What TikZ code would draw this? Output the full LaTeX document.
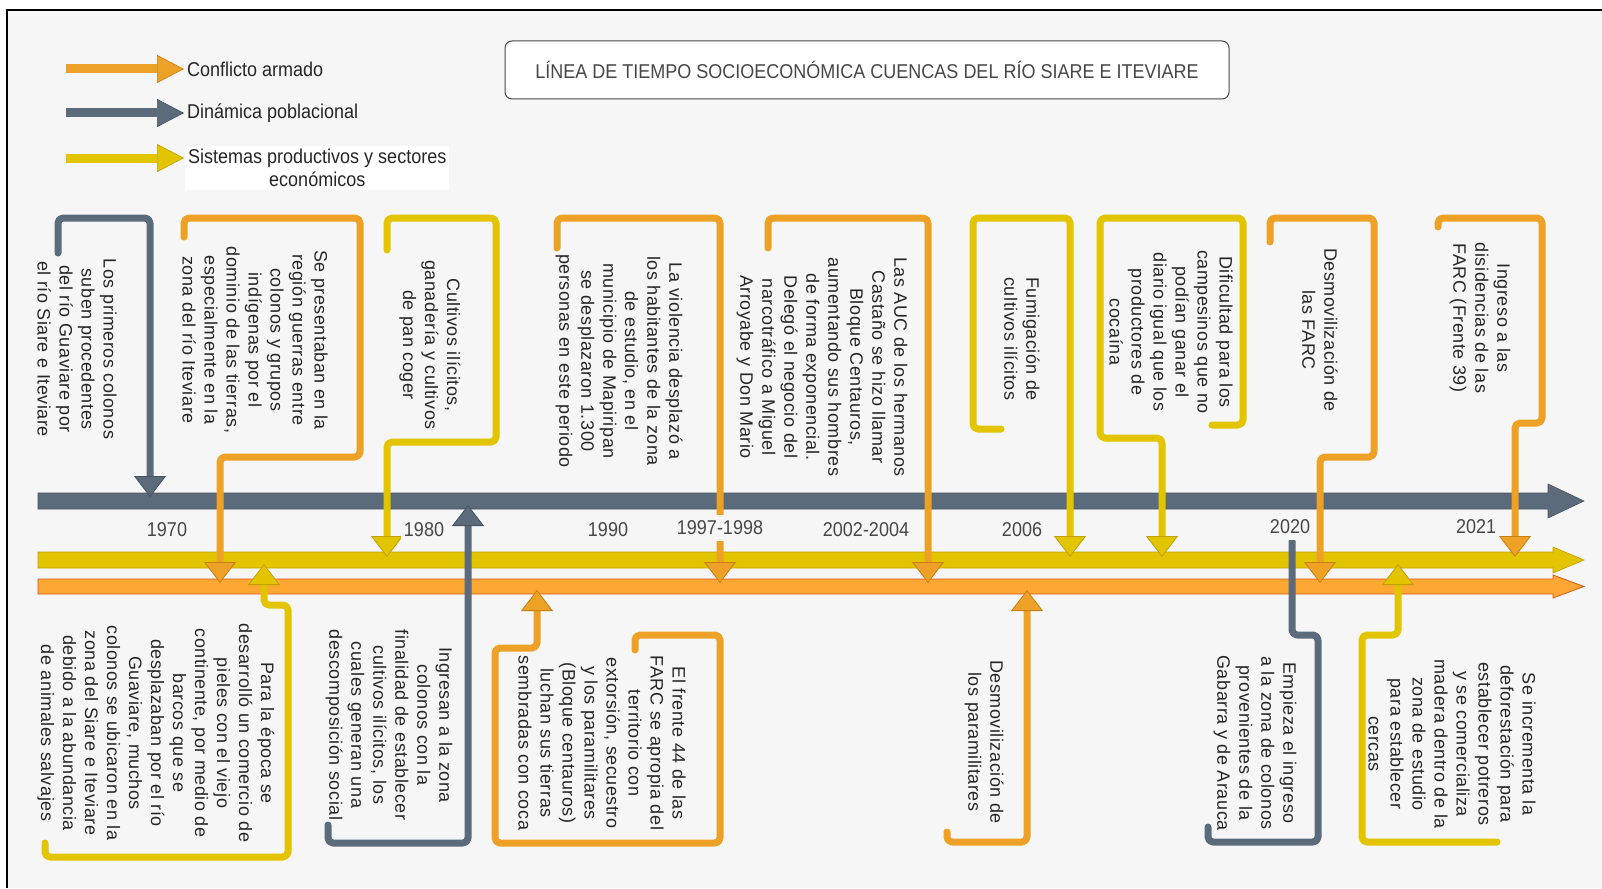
\documentclass[tikz,border=0pt]{standalone}
\usepackage{fontspec}
\setmainfont{Liberation Sans}
\newfontfamily\vfont[LetterSpace=3]{Liberation Sans}
\newfontfamily\nfont[FakeStretch=0.9]{Liberation Sans}
\usetikzlibrary{arrows.meta}
\definecolor{bg}{HTML}{F6F6F6}
\definecolor{greyc}{HTML}{5B6B7C}
\definecolor{greyd}{HTML}{46535F}
\definecolor{orc}{HTML}{EEA127}
\definecolor{ord}{HTML}{C97F12}
\definecolor{obar}{HTML}{FFA733}
\definecolor{obard}{HTML}{D45A1E}
\definecolor{yelc}{HTML}{E3C400}
\definecolor{yeld}{HTML}{BFA200}
\definecolor{txt}{HTML}{262626}
\tikzset{
  callout/.style={line width=7pt, rounded corners=5pt, line cap=round, line join=round},
  cgrey/.style={callout, draw=greyc, -{Triangle[width=32pt,length=21pt,line width=0.8pt,fill=greyc,color=greyd]}},
  corange/.style={callout, draw=orc, -{Triangle[width=32pt,length=21pt,line width=0.8pt,fill=orc,color=ord]}},
  cyellow/.style={callout, draw=yelc, -{Triangle[width=32pt,length=21pt,line width=0.8pt,fill=yelc,color=yeld]}},
  vtext/.style={rotate=-90, align=center, inner sep=0pt, text=txt, font=\vfont\fontsize{18}{22}\selectfont},
  year/.style={fill=bg, inner xsep=3pt, inner ysep=6pt, text=txt!85, font=\nfont\fontsize{20}{24}\selectfont},
  legtext/.style={anchor=west, inner sep=2pt, text=txt, font=\nfont\fontsize{20}{23}\selectfont},
  legarrow/.style={line width=9pt},
}
\begin{document}
\begin{tikzpicture}[x=1pt,y=-1pt]
\useasboundingbox (0,0) rectangle (1602,888);
% page and frame
\fill[white] (0,0) rectangle (1602,888);
\fill[bg] (7,10) rectangle (1602,888);
\draw[black, line width=1.5pt] (7,888) -- (7,10) -- (1602,10);

% legend
\coordinate (la1) at (66,69);  \coordinate (lb1) at (184,69);
\coordinate (la2) at (66,113); \coordinate (lb2) at (184,113);
\coordinate (la3) at (66,158); \coordinate (lb3) at (184,158);
\draw[legarrow, orc, -{Triangle[width=28pt,length=27pt,line width=0.6pt,fill=orc,color=ord]}] (la1) -- (lb1);
\draw[legarrow, greyc, -{Triangle[width=28pt,length=27pt,line width=0.6pt,fill=greyc,color=greyd]}] (la2) -- (lb2);
\draw[legarrow, yelc, -{Triangle[width=28pt,length=27pt,line width=0.6pt,fill=yelc,color=yeld]}] (la3) -- (lb3);
\node[legtext] (l1) at (185,69) {Conflicto armado};
\node[legtext] (l2) at (185,113) {Dinámica poblacional};
\node[legtext, fill=white, align=center, inner xsep=3pt, inner ysep=3pt] (l3) at (185,168) {Sistemas productivos y sectores\\económicos};

% title
\node[draw=txt!85, line width=1pt, rounded corners=7pt, fill=white, minimum width=724pt, minimum height=58pt, text=txt!85, font=\nfont\fontsize{20}{23}\selectfont] (title) at (867,70) {LÍNEA DE TIEMPO SOCIOECONÓMICA CUENCAS DEL RÍO SIARE E ITEVIARE};

% main time axes
\filldraw[fill=greyc, draw=greyd, line width=0.6pt] (38,493) -- (1548,493) -- (1548,484) -- (1584,501) -- (1548,518) -- (1548,509) -- (38,509) -- cycle;
\filldraw[fill=yelc, draw=yeld, line width=0.6pt] (38,552) -- (1553,552) -- (1553,547) -- (1584,560) -- (1553,573) -- (1553,568) -- (38,568) -- cycle;
\filldraw[fill=obar, draw=obard, line width=0.8pt] (38,579) -- (1553,579) -- (1553,575) -- (1584,586.5) -- (1553,598) -- (1553,594) -- (38,594) -- cycle;

% event texts above the axes
\node[vtext] (tA) at (77,349) {Los primeros colonos\\suben procedentes\\del río Guaviare por\\el río Siare e Iteviare};
\node[vtext] (tB) at (255,340) {Se presentaban en la\\región guerras entre\\colonos y grupos\\indígenas por el\\dominio de las tierras,\\especialmente en la\\zona del río Iteviare};
\node[vtext] (tC) at (430,345) {Cultivos ilícitos,\\ganadería y cultivos\\de pan coger};
\node[vtext] (tD) at (619,361) {La violencia desplazó a\\los habitantes de la zona\\de estudio, en el\\municipio de Mapiripan\\se desplazaron 1.300\\personas en este periodo};
\node[vtext] (tE) at (822,367) {Las AUC de los hermanos\\Castaño se hizo llamar\\Bloque Centauros,\\aumentando sus hombres\\de forma exponencial.\\Delegó el negocio del\\narcotráfico a Miguel\\Arroyabe y Don Mario};
\node[vtext] (tF) at (1022,339) {Fumigación de\\cultivos ilícitos};
\node[vtext] (tG) at (1171,332) {Dificultad para los\\campesinos que no\\podían ganar el\\diario igual que los\\productores de\\cocaína};
\node[vtext] (tH) at (1320,330) {Desmovilización de\\las FARC};
\node[vtext] (tI) at (1480,318) {Ingreso a las\\disidencias de las\\FARC (Frente 39)};

% event texts below the axes
\node[vtext] (tJ) at (156,733) {Para la época se\\desarrolló un comercio de\\pieles con el viejo\\continente, por medio de\\barcos que se\\desplazaban por el río\\Guaviare, muchos\\colonos se ubicaron en la\\zona del Siare e Iteviare\\debido a la abundancia\\de animales salvajes};
\node[vtext] (tK) at (389,725) {Ingresan a la zona\\colonos con la\\finalidad de establecer\\cultivos ilícitos, los\\cuales generan una\\descomposición social};
\node[vtext] (tL) at (602,743) {El frente 44 de las\\FARC se apropia del\\territorio con\\extorsión, secuestro\\y los paramilitares\\(Bloque centauros)\\luchan sus tierras\\sembradas con coca};
\node[vtext] (tM) at (984,742) {Desmovilización de\\los paramilitares};
\node[vtext] (tN) at (1255,743) {Empieza el ingreso\\a la zona de colonos\\provenientes de la\\Gabarra y de Arauca};
\node[vtext] (tO) at (1452,744) {Se incrementa la\\deforestación para\\establecer potreros\\y se comercializa\\madera dentro de la\\zona de estudio\\para establecer\\cercas};

% bracket connectors: start of each bracket and its end on an axis
\coordinate (sA) at (58,253);   \coordinate (eA) at (150,497);
\coordinate (sB) at (184,237);  \coordinate (eB) at (220,583);
\coordinate (sC) at (387,250);  \coordinate (eC) at (387,557);
\coordinate (sD) at (557,248);  \coordinate (eD) at (720,583);
\coordinate (sE) at (768,248);  \coordinate (eE) at (928,583);
\coordinate (sF) at (1001,429); \coordinate (eF) at (1070,557);
\coordinate (sG) at (1212,425); \coordinate (eG) at (1162,557);
\coordinate (sH) at (1270,242); \coordinate (eH) at (1320,583);
\coordinate (sI) at (1438,227); \coordinate (eI) at (1515,557);
\coordinate (sJ) at (45,843);   \coordinate (eJ) at (264,564);
\coordinate (sK) at (328,825);  \coordinate (eK) at (468,505);
\coordinate (sL) at (635,650);  \coordinate (eL) at (537,590);
\coordinate (sM) at (947,832);  \coordinate (eM) at (1027,590);
\coordinate (sN) at (1208,827); \coordinate (eN) at (1292,541);
\coordinate (sO) at (1497,842); \coordinate (eO) at (1398,564);

\draw[cgrey]   (sA) -- (58,218) -- (150,218) -- (eA);
\draw[corange] (sB) -- (184,218) -- (360,218) -- (360,457) -- (220,457) -- (eB);
\draw[cyellow] (sC) -- (387,218) -- (496,218) -- (496,442) -- (387,442) -- (eC);
\draw[corange] (sD) -- (557,218) -- (720,218) -- (eD);
\draw[corange] (sE) -- (768,218) -- (928,218) -- (eE);
\draw[cyellow] (sF) -- (973,429) -- (973,218) -- (1070,218) -- (eF);
\draw[cyellow] (sG) -- (1243,425) -- (1243,218) -- (1100,218) -- (1100,438) -- (1162,438) -- (eG);
\draw[corange] (sH) -- (1270,218) -- (1374,218) -- (1374,457) -- (1320,457) -- (eH);
\draw[corange] (sI) -- (1438,218) -- (1542,218) -- (1542,423) -- (1515,423) -- (eI);

\draw[cyellow] (sJ) -- (45,857) -- (288,857) -- (288,605) -- (264,605) -- (eJ);
\draw[cgrey]   (sK) -- (328,843) -- (468,843) -- (eK);
\draw[corange] (sL) -- (635,635) -- (720,635) -- (720,843) -- (495,843) -- (495,648) -- (537,648) -- (eL);
\draw[corange] (sM) -- (947,842) -- (1027,842) -- (eM);
\draw[callout, draw=greyc] (sN) -- (1208,842) -- (1318,842) -- (1318,635) -- (1292,635) -- (eN);
\draw[cyellow] (sO) -- (1362,842) -- (1362,635) -- (1398,635) -- (eO);

% year labels
\node[year] (y1970) at (167,530) {1970};
\node[year] (y1980) at (424,530) {1980};
\node[year] (y1990) at (608,530) {1990};
\node[year] (y1997) at (720,528) {1997-1998};
\node[year] (y2002) at (866,530) {2002-2004};
\node[year] (y2006) at (1022,530) {2006};
\node[year] (y2020) at (1290,527) {2020};
\node[year] (y2021) at (1476,527) {2021};
\end{tikzpicture}
\end{document}
